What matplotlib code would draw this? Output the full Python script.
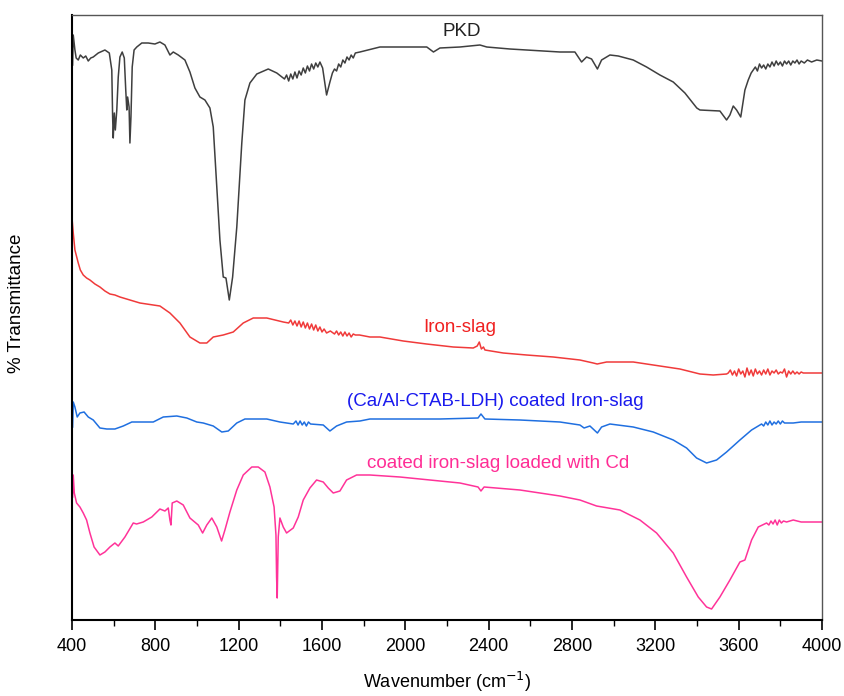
import matplotlib
matplotlib.use("Agg")
import matplotlib.pyplot as plt
from matplotlib.ticker import MultipleLocator

plt.rcParams['font.family'] = ['Liberation Sans', 'DejaVu Sans']

# ---------------- data: (wavenumber cm-1, transmittance a.u.) ----------------
pkd = [(403, 555), (406, 585), (414, 570), (420, 562), (430, 560), (440, 565), (454, 562), (466, 564),
       (478, 559), (490, 562), (502, 563), (526, 567),
       (558, 570), (579, 567), (591, 550), (595, 503), (598, 482), (603, 507), (608, 490), (615, 510),
       (622, 543), (630, 563), (641, 568), (651, 562), (658, 530), (663, 510), (667, 523), (674, 513),
       (678, 477), (683, 503), (689, 553), (698, 570), (711, 573), (735, 577), (766, 577), (798, 576),
       (822, 578), (846, 575), (870, 565), (886, 568), (910, 565), (942, 560), (966, 548), (990, 532),
       (1014, 523), (1038, 520), (1062, 512), (1078, 493), (1095, 433), (1110, 380), (1126, 343),
       (1139, 342), (1155, 320), (1171, 343), (1191, 393), (1215, 477), (1230, 520), (1254, 537),
       (1287, 546), (1342, 551), (1383, 547), (1420, 541), (1430, 545), (1440, 539), (1450, 546),
       (1460, 541), (1470, 548), (1480, 542), (1490, 549), (1500, 545), (1510, 552), (1520, 547),
       (1530, 554), (1540, 549), (1550, 556), (1560, 551), (1570, 557), (1580, 553), (1590, 558),
       (1603, 552), (1622, 525), (1638, 538), (1650, 547), (1660, 551), (1670, 549), (1680, 556),
       (1690, 553), (1700, 560), (1710, 557), (1720, 563), (1730, 560), (1740, 565), (1750, 562),
       (1760, 567), (1782, 568), (1878, 573), (1974, 573),
       (2103, 573), (2135, 568), (2166, 572), (2262, 573), (2358, 575), (2391, 573), (2502, 571),
       (2583, 570), (2742, 568), (2814, 568), (2846, 558), (2870, 563), (2894, 561), (2922, 551),
       (2942, 560), (2982, 565), (3022, 564), (3094, 560), (3158, 553), (3222, 545), (3286, 538),
       (3342, 527), (3399, 512), (3414, 510), (3510, 509), (3542, 500), (3558, 505), (3574, 514),
       (3590, 510), (3610, 503), (3630, 530), (3646, 540), (3660, 547), (3670, 550), (3680, 553),
       (3690, 549), (3700, 556), (3710, 552), (3720, 555), (3730, 551), (3740, 556), (3750, 553),
       (3760, 558), (3770, 554), (3780, 559), (3790, 555), (3800, 558), (3810, 554), (3820, 559),
       (3830, 556), (3840, 559), (3850, 555), (3860, 559), (3870, 557), (3880, 560), (3890, 556),
       (3900, 559), (3915, 557), (3930, 560), (3950, 558), (3975, 560), (4000, 559)]

slag = [(400, 402), (406, 387), (414, 370), (430, 357), (440, 350), (454, 345), (470, 342), (486, 340),
        (510, 336), (534, 333), (558, 329), (582, 326), (606, 325),
        (630, 323), (678, 320), (726, 317), (822, 314), (870, 307), (918, 297), (966, 283), (1014, 277),
        (1047, 277), (1078, 283), (1126, 285), (1174, 288), (1222, 297), (1270, 302), (1335, 302),
        (1414, 298), (1440, 297), (1450, 300), (1460, 295), (1470, 299), (1480, 294), (1490, 299),
        (1500, 293), (1510, 298), (1520, 292), (1530, 297), (1540, 291), (1550, 296), (1560, 290),
        (1570, 295), (1580, 289), (1590, 293), (1600, 288), (1610, 291), (1622, 287), (1640, 289),
        (1660, 286), (1670, 289), (1680, 285), (1690, 288), (1700, 284), (1710, 288), (1720, 284),
        (1730, 287), (1740, 283), (1750, 286), (1760, 285), (1780, 285), (1830, 283),
        (1878, 283), (1990, 279), (2102, 276), (2230, 273), (2326, 272), (2345, 274), (2355, 278),
        (2365, 271), (2375, 273), (2382, 270), (2470, 267), (2582, 265), (2710, 263), (2838, 260),
        (2902, 257), (2921, 256), (2966, 258), (3094, 258), (3222, 254), (3318, 251), (3414, 246),
        (3478, 245), (3542, 246), (3550, 247), (3560, 250), (3570, 245), (3580, 249), (3590, 244),
        (3600, 251), (3610, 246), (3620, 249), (3630, 243), (3640, 252), (3650, 245), (3660, 250),
        (3670, 244), (3680, 251), (3690, 246), (3700, 249), (3710, 245), (3720, 250), (3730, 246),
        (3740, 251), (3750, 245), (3760, 249), (3770, 247), (3780, 250), (3790, 246), (3800, 248),
        (3810, 247), (3820, 251), (3830, 243), (3840, 249), (3850, 246), (3860, 249), (3870, 246),
        (3880, 248), (3890, 246), (3900, 248), (3910, 247), (3930, 247), (3960, 247), (4000, 247)]

ldh = [(403, 193), (406, 218), (414, 213), (425, 203), (438, 207), (458, 208), (478, 203), (502, 200),
       (534, 192), (567, 191), (606, 191), (646, 194), (687, 198), (742, 198), (790, 198), (838, 203),
       (903, 204), (951, 202), (999, 198), (1030, 197), (1078, 194), (1119, 188), (1150, 189),
       (1191, 197), (1230, 201), (1335, 201), (1398, 198), (1462, 196), (1475, 199), (1485, 195),
       (1495, 199), (1505, 195), (1515, 198), (1525, 194), (1535, 198), (1545, 196),
       (1606, 195), (1638, 189), (1670, 194), (1718, 198),
       (1782, 199), (1830, 201), (1974, 201), (2166, 201), (2349, 202), (2363, 206), (2382, 201),
       (2550, 200), (2742, 198), (2838, 195), (2858, 192), (2886, 194), (2922, 187), (2942, 193),
       (2982, 196), (3094, 193), (3190, 188), (3286, 180), (3350, 172), (3398, 162), (3446, 157),
       (3494, 160), (3542, 168), (3606, 180), (3662, 190), (3710, 196), (3720, 194), (3730, 198),
       (3740, 195), (3750, 199), (3760, 195), (3770, 198), (3780, 196), (3790, 199), (3800, 196),
       (3810, 199), (3820, 197), (3862, 197), (3900, 198), (4000, 198)]

cd = [(403, 123), (406, 145), (411, 127), (422, 117), (438, 113), (454, 107), (470, 100), (486, 87),
      (506, 73), (534, 65), (558, 68), (582, 73), (606, 77), (622, 74), (654, 83), (694, 97), (710, 96),
      (742, 98), (783, 103), (822, 111), (846, 109), (862, 112), (870, 100), (875, 95), (881, 117),
      (903, 119), (934, 115), (966, 102), (1006, 95), (1027, 87), (1047, 95), (1071, 102), (1095, 93),
      (1118, 79), (1134, 90), (1158, 108), (1191, 130), (1222, 145), (1263, 153), (1294, 153),
      (1326, 148), (1350, 133), (1370, 113), (1379, 85), (1382, 43), (1385, 22), (1390, 83),
      (1398, 102), (1414, 93), (1430, 87), (1462, 92), (1486, 103), (1510, 120), (1542, 132),
      (1574, 140), (1606, 138), (1630, 132), (1654, 127), (1686, 129), (1718, 140), (1766, 145),
      (1830, 145), (1974, 143), (2118, 140), (2262, 137), (2349, 133), (2363, 129), (2378, 133),
      (2550, 130), (2742, 124), (2838, 120), (2918, 114), (3030, 110), (3126, 100), (3206, 87),
      (3286, 67), (3350, 43), (3406, 23), (3446, 13), (3470, 11), (3510, 23), (3558, 40), (3606, 58),
      (3630, 60), (3662, 80), (3694, 93), (3734, 97), (3745, 95), (3755, 99), (3765, 96), (3775, 100),
      (3785, 95), (3795, 100), (3805, 97), (3815, 99), (3830, 98), (3862, 100), (3900, 98), (4000, 98)]

series = [pkd, slag, ldh, cd]
series_labels = ['PKD', 'Iron-slag', '(Ca/Al-CTAB-LDH) coated Iron-slag', 'coated iron-slag loaded with Cd']
xticks = [400, 800, 1200, 1600, 2000, 2400, 2800, 3200, 3600, 4000]

# ---------------- figure ----------------
fig = plt.figure(figsize=(8.44, 6.96), dpi=100)
ax = fig.add_axes([72/844, 76/696, 750/844, 605/696])

line_colors = ['#3f3f3f', '#f03a3a', '#1f6fe0', '#ff3399']
text_colors = ['#222222', '#f02020', '#1a1aee', '#ff2d95']
label_pos = [(2272, 588), (2262, 293), (2430, 218), (2445, 157)]

for data, lab, (xx, yy), lc, tc in zip(series, series_labels, label_pos, line_colors, text_colors):
    wn = [p[0] for p in data]
    tv = [p[1] for p in data]
    ax.plot(wn, tv, color=lc, lw=1.1, solid_joinstyle='round')
    ax.text(xx, yy, lab, color=tc, fontsize=13.5, ha='center', va='center')

ax.set_xlim(400, 4000)
ax.set_ylim(0, 605)
ax.set_xticks(xticks)
ax.xaxis.set_minor_locator(MultipleLocator(200))
ax.set_yticks([])
ax.tick_params(axis='x', which='major', direction='out', length=7, width=1.2, labelsize=13, pad=6)
ax.tick_params(axis='x', which='minor', direction='out', length=4, width=1.0)

for s in ['bottom', 'left']:
    ax.spines[s].set_linewidth(1.5)
    ax.spines[s].set_color('black')
for s in ['top', 'right']:
    ax.spines[s].set_linewidth(1.0)
    ax.spines[s].set_color('#555555')

fig.text(447/844, 1 - 682/696, 'Wavenumber (cm$^{-1}$)', ha='center', va='center', fontsize=13)
fig.text(17/844, 1 - 303/696, '% Transmittance', ha='center', va='center', rotation=90, fontsize=13.5)

fig.savefig('out.png', dpi=100)
